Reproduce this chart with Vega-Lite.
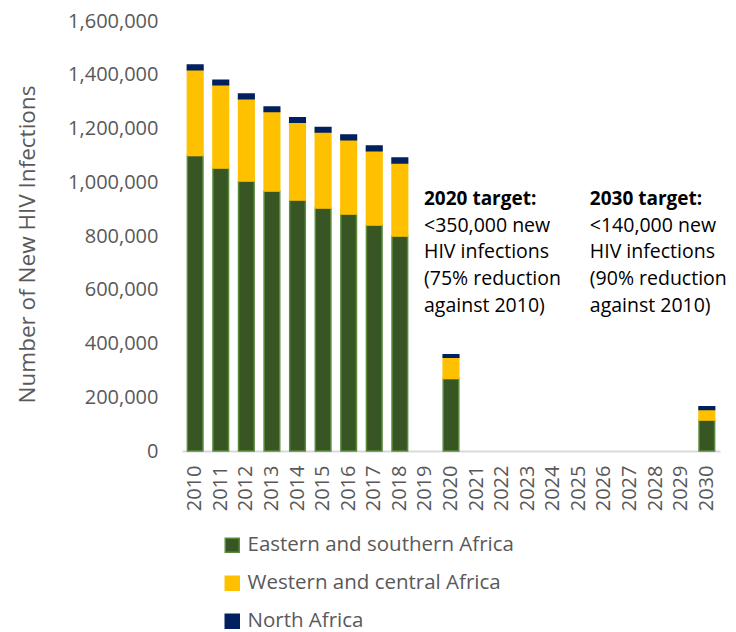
{
  "$schema": "https://vega.github.io/schema/vega-lite/v6.json",
  "width": 538,
  "height": 430,
  "autosize": {"type": "none"},
  "padding": {"left": 182, "top": 21, "right": 16, "bottom": 181},
  "background": "white",
  "config": {"view": {"stroke": null}, "font": "Open Sans"},
  "datasets": {
    "bars": [
      {"year": "2010", "region": "Eastern and southern Africa", "ord": 1, "value": 1100000},
      {"year": "2010", "region": "Western and central Africa", "ord": 2, "value": 319000},
      {"year": "2010", "region": "North Africa", "ord": 3, "value": 17000},
      {"year": "2011", "region": "Eastern and southern Africa", "ord": 1, "value": 1053000},
      {"year": "2011", "region": "Western and central Africa", "ord": 2, "value": 310000},
      {"year": "2011", "region": "North Africa", "ord": 3, "value": 17000},
      {"year": "2012", "region": "Eastern and southern Africa", "ord": 1, "value": 1005000},
      {"year": "2012", "region": "Western and central Africa", "ord": 2, "value": 306000},
      {"year": "2012", "region": "North Africa", "ord": 3, "value": 17000},
      {"year": "2013", "region": "Eastern and southern Africa", "ord": 1, "value": 967000},
      {"year": "2013", "region": "Western and central Africa", "ord": 2, "value": 296000},
      {"year": "2013", "region": "North Africa", "ord": 3, "value": 17000},
      {"year": "2014", "region": "Eastern and southern Africa", "ord": 1, "value": 934000},
      {"year": "2014", "region": "Western and central Africa", "ord": 2, "value": 289000},
      {"year": "2014", "region": "North Africa", "ord": 3, "value": 17000},
      {"year": "2015", "region": "Eastern and southern Africa", "ord": 1, "value": 904000},
      {"year": "2015", "region": "Western and central Africa", "ord": 2, "value": 283000},
      {"year": "2015", "region": "North Africa", "ord": 3, "value": 17000},
      {"year": "2016", "region": "Eastern and southern Africa", "ord": 1, "value": 882000},
      {"year": "2016", "region": "Western and central Africa", "ord": 2, "value": 276000},
      {"year": "2016", "region": "North Africa", "ord": 3, "value": 18000},
      {"year": "2017", "region": "Eastern and southern Africa", "ord": 1, "value": 841000},
      {"year": "2017", "region": "Western and central Africa", "ord": 2, "value": 276000},
      {"year": "2017", "region": "North Africa", "ord": 3, "value": 18000},
      {"year": "2018", "region": "Eastern and southern Africa", "ord": 1, "value": 800000},
      {"year": "2018", "region": "Western and central Africa", "ord": 2, "value": 272000},
      {"year": "2018", "region": "North Africa", "ord": 3, "value": 18000},
      {"year": "2020", "region": "Eastern and southern Africa", "ord": 1, "value": 270000},
      {"year": "2020", "region": "Western and central Africa", "ord": 2, "value": 79000},
      {"year": "2020", "region": "North Africa", "ord": 3, "value": 9000},
      {"year": "2030", "region": "Eastern and southern Africa", "ord": 1, "value": 115000},
      {"year": "2030", "region": "Western and central Africa", "ord": 2, "value": 39000},
      {"year": "2030", "region": "North Africa", "ord": 3, "value": 11000}
    ],
    "notes": [
      {"year": "2020", "title": "2020 target:", "body": "<350,000 new\nHIV infections\n(75% reduction\nagainst 2010)", "titleY": 915000, "bodyY": 816000},
      {"year": "2030", "title": "2030 target:", "body": "<140,000 new\nHIV infections\n(90% reduction\nagainst 2010)", "titleY": 915000, "bodyY": 816000}
    ]
  },
  "encoding": {
    "x": {
      "field": "year", "type": "ordinal",
      "scale": {
        "domain": ["2010","2011","2012","2013","2014","2015","2016","2017","2018","2019","2020","2021","2022","2023","2024","2025","2026","2027","2028","2029","2030"],
        "paddingInner": 0.39, "paddingOuter": 0.21
      },
      "axis": {
        "title": null, "labelAngle": -90, "labelFontSize": 20, "labelColor": "#595959",
        "labelPadding": 14, "ticks": false, "domainColor": "#d9d9d9", "domainWidth": 2
      }
    }
  },
  "layer": [
    {
      "data": {"name": "bars"},
      "mark": {"type": "bar", "strokeWidth": 1.5},
      "encoding": {
        "y": {
          "field": "value", "type": "quantitative", "stack": "zero",
          "scale": {"domain": [0, 1600000], "nice": false},
          "axis": {
            "title": "Number of New HIV Infections", "titleFontSize": 22.5, "titleFontWeight": "normal",
            "titleColor": "#595959", "titlePadding": 28, "titleY": 223,
            "values": [0,200000,400000,600000,800000,1000000,1200000,1400000,1600000],
            "format": ",d", "labelFontSize": 20, "labelColor": "#595959", "labelPadding": 24,
            "grid": false, "domain": false, "ticks": false
          }
        },
        "color": {
          "field": "region", "type": "nominal",
          "scale": {
            "domain": ["Eastern and southern Africa", "Western and central Africa", "North Africa"],
            "range": ["#375623", "#FFC000", "#002060"]
          },
          "legend": {
            "title": null, "orient": "none", "direction": "vertical", "legendX": 40, "legendY": 514,
            "symbolType": "square", "symbolSize": 196, "symbolStrokeWidth": 1.5,
            "labelFontSize": 20.5, "labelColor": "#595959", "labelOffset": 5, "rowPadding": 17,
            "labelLimit": 400,
            "labelExpr": "datum.label == 'Eastern and southern Africa' ? '\u00a0Eastern and southern Africa' : datum.label"
          }
        },
        "stroke": {
          "field": "region", "type": "nominal",
          "scale": {
            "domain": ["Eastern and southern Africa", "Western and central Africa", "North Africa"],
            "range": ["#5a8a3a", "#FFC000", "#002060"]
          },
          "legend": null
        },
        "order": {"field": "ord", "type": "quantitative"}
      }
    },
    {
      "data": {"name": "notes"},
      "transform": [{"filter": "datum.year == '2020'"}],
      "mark": {"type": "text", "align": "left", "baseline": "alphabetic", "fontSize": 19, "fontWeight": "bold", "color": "#000000", "dx": -27},
      "encoding": {
        "y": {"field": "titleY", "type": "quantitative"},
        "text": {"field": "title"}
      }
    },
    {
      "data": {"name": "notes"},
      "transform": [{"filter": "datum.year == '2030'"}],
      "mark": {"type": "text", "align": "left", "baseline": "alphabetic", "fontSize": 19, "fontWeight": "bold", "color": "#000000", "dx": -117},
      "encoding": {
        "y": {"field": "titleY", "type": "quantitative"},
        "text": {"field": "title"}
      }
    },
    {
      "data": {"name": "notes"},
      "transform": [{"filter": "datum.year == '2020'"}],
      "mark": {"type": "text", "align": "left", "baseline": "alphabetic", "fontSize": 19.5, "color": "#000000", "lineBreak": "\n", "lineHeight": 26.7, "dx": -27},
      "encoding": {
        "y": {"field": "bodyY", "type": "quantitative"},
        "text": {"field": "body"}
      }
    },
    {
      "data": {"name": "notes"},
      "transform": [{"filter": "datum.year == '2030'"}],
      "mark": {"type": "text", "align": "left", "baseline": "alphabetic", "fontSize": 19.5, "color": "#000000", "lineBreak": "\n", "lineHeight": 26.7, "dx": -117},
      "encoding": {
        "y": {"field": "bodyY", "type": "quantitative"},
        "text": {"field": "body"}
      }
    }
  ]
}
